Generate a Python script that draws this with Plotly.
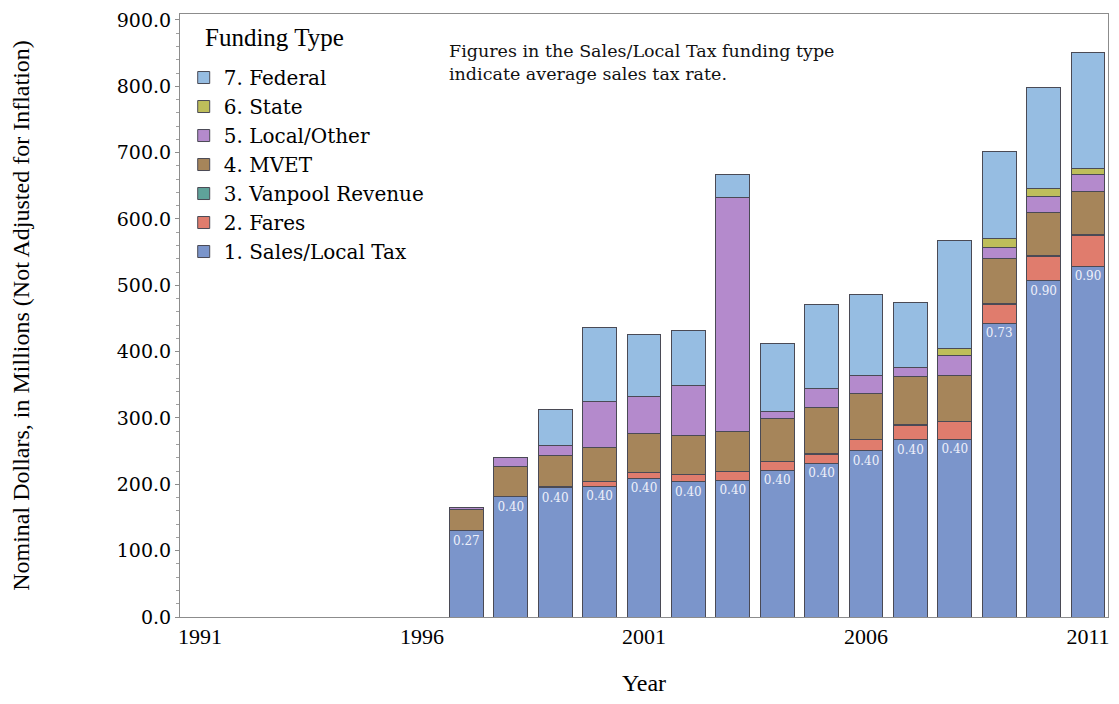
import plotly.graph_objects as go

years = list(range(1997, 2012))
sales_local_tax = [130, 181, 195, 197, 209, 204, 206, 221, 232, 251, 267, 268, 443, 507, 529]
fares = [0, 0, 2, 7, 9, 11, 12.7, 13, 13.6, 16.7, 22.4, 26, 28.4, 37, 46.7]
vanpool = [0, 0, 0, 0.5, 0.5, 0.5, 0.5, 0.5, 0.5, 0.5, 0.5, 0.5, 0.5, 0.5, 0.5]
mvet = [32.5, 46, 46.5, 50.6, 58, 58, 60.3, 65, 69, 69, 72.8, 69, 67.9, 65, 65.7]
local_other = [2, 13, 14.5, 69.4, 56, 75, 353, 11, 29.5, 26.6, 13, 31.4, 16.6, 24.7, 25.4]
state = [0, 0, 0, 0, 0, 0, 0, 0, 0, 0, 0, 10, 14.7, 11.3, 8.2]
federal = [0.5, 1, 54.5, 112.5, 94, 84, 35, 101.5, 126.6, 123, 98.7, 162.5, 130.6, 153, 176]
tax_rates = ["0.27", "0.40", "0.40", "0.40", "0.40", "0.40", "0.40", "0.40", "0.40",
             "0.40", "0.40", "0.40", "0.73", "0.90", "0.90"]
x_ticks = [1991, 1996, 2001, 2006, 2011]

series = [
    ("1. Sales/Local Tax", sales_local_tax, "#7b95cb"),
    ("2. Fares", fares, "#e07c6d"),
    ("3. Vanpool Revenue", vanpool, "#5fa39a"),
    ("4. MVET", mvet, "#a6855a"),
    ("5. Local/Other", local_other, "#b48acc"),
    ("6. State", state, "#bebe5a"),
    ("7. Federal", federal, "#96bde2"),
]

fig = go.Figure()
for i, (name, vals, color) in enumerate(series):
    kw = {}
    if i == 0:
        kw = dict(text=tax_rates, textposition="inside", insidetextanchor="end",
                  textfont=dict(family="DejaVu Serif", size=12, color="#eef0fa"),
                  textangle=0)
    fig.add_trace(go.Bar(
        x=years, y=vals, name=name, width=0.76,
        marker=dict(color=color, line=dict(color="#4a4a55", width=1)),
        hoverinfo="x+y+name", **kw))

fig.update_layout(
    width=1103, height=688,
    barmode="stack",
    plot_bgcolor="white", paper_bgcolor="white",
    margin=dict(l=172, r=2, t=1, b=79),
    font=dict(family="Liberation Serif", color="#000000"),
    legend=dict(
        traceorder="reversed",
        x=0.004, y=0.927, xanchor="left", yanchor="top",
        font=dict(size=20, family="DejaVu Serif"),
        bgcolor="rgba(0,0,0,0)",
        itemwidth=30, tracegroupgap=0,
    ),
    annotations=[
        dict(text="Funding Type", xref="paper", yref="paper", x=0.0245, y=0.9605,
             xanchor="left", yanchor="middle", showarrow=False,
             font=dict(family="Liberation Serif", size=25, color="#000000")),
        dict(
            text="Figures in the Sales/Local Tax funding type<br>indicate average sales tax rate.",
            xref="paper", yref="paper", x=0.2875, y=0.959, xanchor="left", yanchor="top",
            align="left", showarrow=False,
            font=dict(family="DejaVu Serif", size=17.5, color="#111111"),
        ),
    ],
)

fig.update_xaxes(
    range=[1990.55, 2011.45],
    tickmode="array", tickvals=x_ticks,
    ticktext=[str(t) for t in x_ticks],
    tickfont=dict(family="Liberation Serif", size=22),
    ticklabeloverflow="allow",
    title=dict(text="Year", font=dict(family="Liberation Serif", size=24), standoff=28),
    showline=True, linecolor="#8c8c8c", linewidth=1, mirror=True,
    ticks="", showgrid=False, zeroline=False,
)
fig.update_yaxes(
    range=[0, 909],
    tickmode="linear", tick0=0, dtick=100, tickformat=".1f",
    tickfont=dict(family="DejaVu Serif", size=19),
    ticklabeloverflow="allow",
    title=dict(text="Nominal Dollars, in Millions (Not Adjusted for Inflation)",
               font=dict(family="Liberation Serif", size=24), standoff=80),
    showline=True, linecolor="#8c8c8c", linewidth=1, mirror=True,
    ticks="outside", ticklen=4, tickcolor="#8c8c8c",
    minor=dict(ticks="outside", ticklen=3, dtick=20, tickcolor="#a0a0a0", showgrid=False),
    showgrid=False, zeroline=False,
)

fig.write_html("out.html")
